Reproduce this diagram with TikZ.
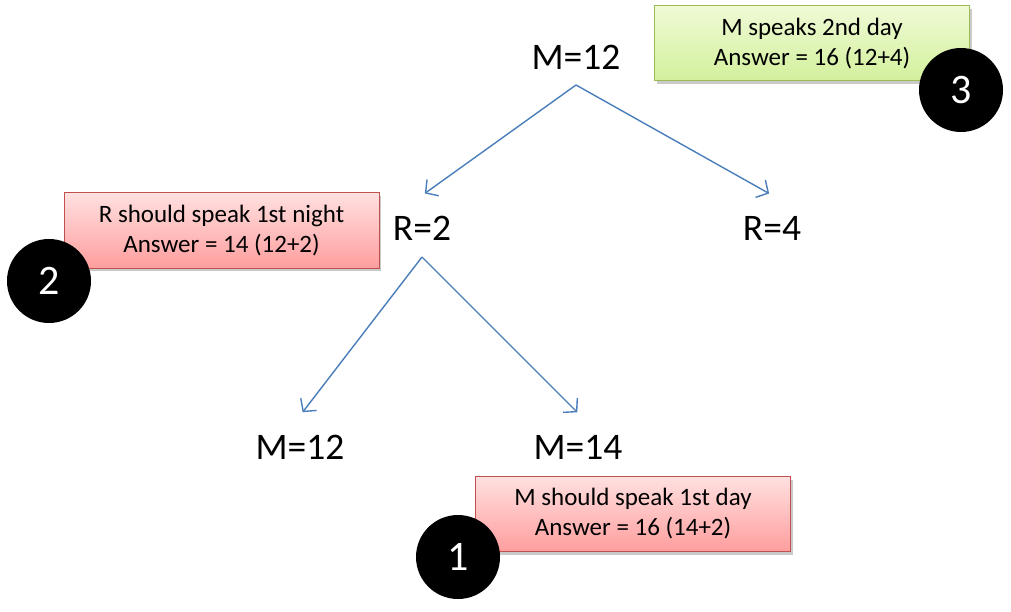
\documentclass[tikz,border=0pt]{standalone}
\usepackage{fontspec}
\setmainfont{Carlito}
\usetikzlibrary{arrows.meta,shadows}
\definecolor{arrowblue}{HTML}{4A7EBB}
\definecolor{redtop}{HTML}{FFE0E0}
\definecolor{redbot}{HTML}{FF9E9E}
\definecolor{redborder}{HTML}{C0504D}
\definecolor{greentop}{HTML}{EFFAD6}
\definecolor{greenbot}{HTML}{D3F09C}
\definecolor{greenborder}{HTML}{9BBB59}
\tikzset{
  treelabel/.style={font=\fontsize{37.5}{42}\selectfont, inner sep=0pt},
  edge/.style={draw=arrowblue, line width=1.4pt, -{Straight Barb[length=9pt,width=20pt,line width=1.4pt]}, shorten >=1pt},
  notebox/.style={minimum width=315pt, minimum height=75pt, align=center, line width=1pt,
     font=\fontsize{25}{30}\selectfont, inner sep=0pt,
     drop shadow={shadow xshift=2pt, shadow yshift=-3pt, opacity=0.35, fill=black!60}},
  redbox/.style={notebox, draw=redborder, top color=redtop, bottom color=redbot},
  greenbox/.style={notebox, draw=greenborder, top color=greentop, bottom color=greenbot},
  numcirc/.style={circle, fill=black, text=white, minimum size=84pt, inner sep=0pt,
     font=\fontsize{42}{46}\selectfont}
}
\begin{document}
\begin{tikzpicture}[x=1pt,y=-1pt]
\useasboundingbox (0,0) rectangle (1011,612);
% tree labels
\node[treelabel] (m12) at (576,57) {M=12};
\node[treelabel] (r2) at (422,228) {R=2};
\node[treelabel] (r4) at (772,228) {R=4};
\node[treelabel] (m12b) at (300,447) {M=12};
\node[treelabel] (m14) at (578,447) {M=14};
% connectors
\coordinate (m12s) at (576,85);
\coordinate (r2s) at (422,257);
\draw[edge] (m12s) -- (424,194) coordinate (r2t);
\draw[edge] (m12s) -- (770,194) coordinate (r4t);
\draw[edge] (r2s) -- (302,413) coordinate (m12bt);
\draw[edge] (r2s) -- (578,413) coordinate (m14t);
% boxes
\node[greenbox] (g3) at (812,43.5) {M speaks 2nd day\\Answer = 16 (12+4)};
\node[redbox] (b2) at (221.5,230.5) {R should speak 1st night\\Answer = 14 (12+2)};
\node[redbox] (b1) at (633,514) {M should speak 1st day\\Answer = 16 (14+2)};
% circles
\node[numcirc] (c3) at (961,90) {3};
\node[numcirc] (c2) at (49,281) {2};
\node[numcirc] (c1) at (458,557) {1};
\end{tikzpicture}
\end{document}
